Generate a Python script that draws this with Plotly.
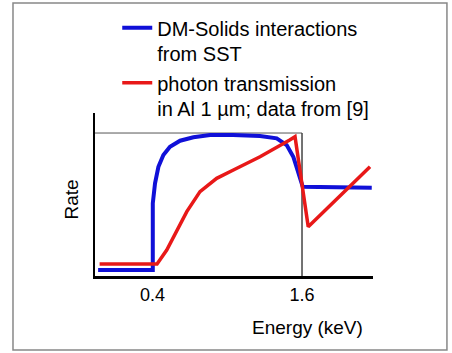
import plotly.graph_objects as go

# Blue: DM-Solids interactions from SST
blue_energy = [-0.037, 0.402, 0.402, 0.42, 0.447, 0.487, 0.54, 0.621, 0.728, 0.862, 1.046,
               1.263, 1.397, 1.477, 1.53, 1.57, 1.606, 2.16]
blue_rate = [0.042, 0.042, 0.508, 0.648, 0.764, 0.846, 0.904, 0.946, 0.97, 0.986, 0.986,
             0.979, 0.963, 0.916, 0.834, 0.718, 0.624, 0.617]

# Red: photon transmission in Al 1 um
red_energy = [-0.025, 0.436, 0.514, 0.594, 0.675, 0.781, 0.915, 1.049, 1.263, 1.501, 1.544, 1.65, 2.146]
red_rate = [0.084, 0.084, 0.182, 0.322, 0.45, 0.59, 0.683, 0.741, 0.834, 0.951, 0.974, 0.345, 0.764]

tick_vals = [0.4, 1.6]
tick_text = ["0.4", "1.6"]
edge_energy = 1.6
ref_rate = 1.0

FONT = "Liberation Sans, Arial, sans-serif"

fig = go.Figure()
fig.add_trace(go.Scatter(x=blue_energy, y=blue_rate, mode="lines",
                         line=dict(color="#1010d8", width=4),
                         name="DM-Solids interactions<br>from SST"))
fig.add_trace(go.Scatter(x=red_energy, y=red_rate, mode="lines",
                         line=dict(color="#e81818", width=3.5),
                         name="photon transmission<br>in Al 1 µm; data from [9]"))

# reference lines
fig.add_shape(type="line", x0=-0.062, x1=edge_energy, y0=ref_rate, y1=ref_rate,
              line=dict(color="#555555", width=1), layer="below")
fig.add_shape(type="line", x0=edge_energy, x1=edge_energy, y0=0, y1=ref_rate,
              line=dict(color="#444444", width=1.5), layer="below")
# outer frame
fig.add_shape(type="rect", xref="paper", yref="paper", x0=-0.295, x1=1.266, y0=-0.454, y1=1.675,
              line=dict(color="#888888", width=1.5))

fig.add_annotation(text="Energy (keV)", xref="paper", yref="paper", x=0.766, y=-0.319,
                   xanchor="center", yanchor="middle",
                   showarrow=False, font=dict(family=FONT, size=19, color="black"))
fig.add_annotation(text="Rate", xref="paper", yref="paper", x=-0.0845, y=0.466, textangle=-90,
                   xanchor="center", yanchor="middle",
                   showarrow=False, font=dict(family=FONT, size=19, color="black"))

fig.update_layout(
    width=452, height=353,
    margin=dict(l=95, r=79, t=113, b=77, autoexpand=False),
    paper_bgcolor="white", plot_bgcolor="white",
    font=dict(family=FONT, color="black"),
    showlegend=True,
    legend=dict(x=0.08, y=1.643, xanchor="left", yanchor="top", bgcolor="rgba(0,0,0,0)",
                font=dict(family=FONT, size=20, color="black"), valign="top",
                tracegroupgap=0, itemwidth=30),
    xaxis=dict(range=[-0.062, 2.17], showgrid=False, zeroline=False, showline=True,
               linecolor="black", linewidth=3, tickvals=tick_vals, ticktext=tick_text,
               ticks="", tickfont=dict(family=FONT, size=18, color="black"), ticklabelstandoff=0),
    yaxis=dict(range=[0, 1.14], showgrid=False, zeroline=False, showline=True,
               linecolor="black", linewidth=2, showticklabels=False, ticks=""),
)

fig.write_html("out.html", config={"displayModeBar": False},
               post_script="document.body.style.margin='0';document.body.style.overflow='hidden';")
